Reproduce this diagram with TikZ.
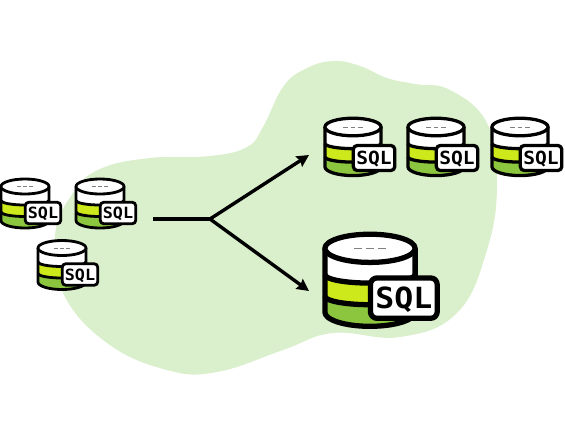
\documentclass[tikz,border=0pt]{standalone}
\usepackage{fontspec}
\setmainfont[FakeStretch=1.08]{DejaVu Sans Mono}
\usetikzlibrary{arrows.meta}

\definecolor{blobgreen}{HTML}{DAEFCB}
\definecolor{limeband}{HTML}{CDE81B}
\definecolor{greenband}{HTML}{8CC63F}

\tikzset{
  dbline/.style={draw=black, line width=#1, line join=round},
  flowline/.style={line width=3.4pt, black},
  flowhead/.style={-{Stealth[length=12pt, width=12pt, inset=1.5pt]}},
  dbarc/.style={x radius=24, y radius=7.5},
  bandarc/.style={x radius=24, y radius=4.5}
}

% database with its tag, top ellipse centred on #1
\newcommand{\sqldb}[3]{
  \begin{scope}[shift={(#1)}, scale=#2]
    \pgfmathsetmacro{\lw}{2.8*#2}
    \pgfmathsetmacro{\fs}{15.5*#2}
    \pgfmathsetmacro{\dashon}{4*#2}
    \pgfmathsetmacro{\dashoff}{2.25*#2}
    \fill[white] (-24,0) -- (-24,34) arc[dbarc, start angle=180, end angle=0] -- (24,0) -- cycle;
    \fill[greenband] (-24,25.5) arc[bandarc, start angle=180, end angle=0] -- (24,34) arc[dbarc, start angle=0, end angle=180] -- cycle;
    \fill[limeband] (-24,14) arc[bandarc, start angle=180, end angle=0] -- (24,25.5) arc[bandarc, start angle=0, end angle=180] -- cycle;
    \draw[dbline=\lw pt] (-24,0) -- (-24,34) arc[dbarc, start angle=180, end angle=0] -- (24,0);
    \draw[dbline=\lw pt] (-24,14) arc[bandarc, start angle=180, end angle=0];
    \draw[dbline=\lw pt] (-24,25.5) arc[bandarc, start angle=180, end angle=0];
    \draw[dbline=\lw pt, fill=white] (0,0) ellipse[x radius=24, y radius=7.5];
    \draw[gray, line width=.5*#2 pt, dash pattern=on \dashon pt off \dashoff pt] (-8.25,0) -- (8.25,0);
    \node[dbline=\lw pt, fill=white, rounded corners=3.5*#2 pt, minimum width=#2*35.5pt, minimum height=#2*21.5pt, inner sep=0pt, text height=.73*\fs pt, text depth=0pt] (#3) at (18,26.5) {\fontsize{\fs}{\fs}\selectfont\bfseries SQL};
  \end{scope}
}

\begin{document}
\begin{tikzpicture}[x=1pt, y=-1pt]
  \useasboundingbox (0,0) rectangle (565,440);

  % background blob
  \fill[blobgreen] plot[smooth cycle, tension=.7] coordinates {
    (333,61) (360,66) (387,78) (415,84) (450,90) (487,123) (497,183) (487,250) (457,313)
    (400,337) (333,333) (283,350) (217,372) (167,370) (107,343) (63,293)
    (55,235) (73,193) (100,169) (150,158) (210,156) (247,147) (263,127)
    (283,87) (305,69)};

  % source databases
  \sqldb{25,186.5}{1}{srcA}
  \sqldb{100,186.5}{1}{srcB}
  \sqldb{62,248}{1}{srcC}

  % target databases
  \sqldb{353,127}{1.17}{dstA}
  \sqldb{436,127}{1.17}{dstB}
  \sqldb{520,127}{1.17}{dstC}
  \sqldb{370,248.3}{1.88}{dstD}

  % arrows
  \coordinate (start) at (153,219);
  \coordinate (fork) at (210,219);
  \coordinate (upper) at (309,155);
  \coordinate (lower) at (309,291);
  \draw[flowline] (start) -- (fork);
  \draw[flowline, flowhead] (fork) -- (upper);
  \draw[flowline, flowhead] (fork) -- (lower);
\end{tikzpicture}
\end{document}
